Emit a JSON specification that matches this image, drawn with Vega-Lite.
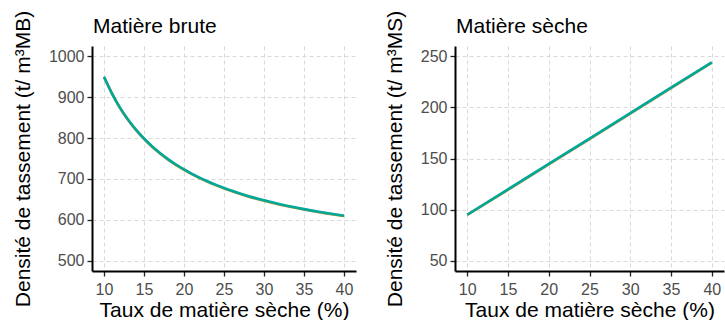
{
  "$schema": "https://vega.github.io/schema/vega-lite/v6.json",
  "padding": {"left": 12, "top": 10, "right": 2, "bottom": 0},
  "background": "white",
  "spacing": 99,
  "bounds": "flush",
  "config": {
    "font": "Liberation Sans",
    "view": {"stroke": null},
    "title": {"fontSize": 21, "fontWeight": "normal", "color": "black", "anchor": "start", "frame": "group", "offset": -27, "dx": 1},
    "axis": {
      "domainColor": "black", "domainWidth": 2,
      "tickColor": "#222222", "tickWidth": 1.3, "tickSize": 5,
      "labelColor": "#4d4d4d", "labelFontSize": 16, "labelPadding": 3, "format": "d",
      "titleColor": "black", "titleFontSize": 21, "titleFontWeight": "normal",
      "gridColor": "#d9d9d9", "gridDash": [4, 3], "gridWidth": 1
    }
  },
  "datasets": {
    "brute": [
      {"x": 10, "s": "t", "y": 950.0}, {"x": 11, "s": "t", "y": 908.8}, {"x": 12, "s": "t", "y": 874.4}, {"x": 13, "s": "t", "y": 845.4}, {"x": 14, "s": "t", "y": 820.5}, {"x": 15, "s": "t", "y": 798.9}, {"x": 16, "s": "t", "y": 780.0}, {"x": 17, "s": "t", "y": 763.3}, {"x": 18, "s": "t", "y": 748.5}, {"x": 19, "s": "t", "y": 735.3}, {"x": 20, "s": "t", "y": 723.3}, {"x": 21, "s": "t", "y": 712.5}, {"x": 22, "s": "t", "y": 702.7}, {"x": 23, "s": "t", "y": 693.8}, {"x": 24, "s": "t", "y": 685.6}, {"x": 25, "s": "t", "y": 678.0}, {"x": 26, "s": "t", "y": 671.0}, {"x": 27, "s": "t", "y": 664.6}, {"x": 28, "s": "t", "y": 658.6}, {"x": 29, "s": "t", "y": 653.0}, {"x": 30, "s": "t", "y": 647.8}, {"x": 31, "s": "t", "y": 642.9}, {"x": 32, "s": "t", "y": 638.3}, {"x": 33, "s": "t", "y": 634.0}, {"x": 34, "s": "t", "y": 630.0}, {"x": 35, "s": "t", "y": 626.2}, {"x": 36, "s": "t", "y": 622.6}, {"x": 37, "s": "t", "y": 619.2}, {"x": 38, "s": "t", "y": 616.0}, {"x": 39, "s": "t", "y": 612.9}, {"x": 40, "s": "t", "y": 610.0},
      {"x": 10, "s": "b", "y": 949.0}, {"x": 12, "s": "b", "y": 873.2}, {"x": 14, "s": "b", "y": 819.2}, {"x": 16, "s": "b", "y": 778.6}, {"x": 18, "s": "b", "y": 747.1}, {"x": 20, "s": "b", "y": 721.9}, {"x": 22, "s": "b", "y": 701.3}, {"x": 24, "s": "b", "y": 684.2}, {"x": 26, "s": "b", "y": 669.7}, {"x": 28, "s": "b", "y": 657.3}, {"x": 30, "s": "b", "y": 646.6}, {"x": 32, "s": "b", "y": 637.2}, {"x": 34, "s": "b", "y": 629.0}, {"x": 36, "s": "b", "y": 621.7}, {"x": 38, "s": "b", "y": 615.3}, {"x": 40, "s": "b", "y": 609.5}
    ],
    "seche": [
      {"x": 10, "s": "t", "y": 95.0}, {"x": 15, "s": "t", "y": 119.8}, {"x": 20, "s": "t", "y": 144.7}, {"x": 25, "s": "t", "y": 169.5}, {"x": 30, "s": "t", "y": 194.3}, {"x": 35, "s": "t", "y": 219.2}, {"x": 40, "s": "t", "y": 244.0},
      {"x": 10, "s": "b", "y": 94.8}, {"x": 15, "s": "b", "y": 119.4}, {"x": 20, "s": "b", "y": 144.2}, {"x": 25, "s": "b", "y": 169.0}, {"x": 30, "s": "b", "y": 193.8}, {"x": 35, "s": "b", "y": 218.8}, {"x": 40, "s": "b", "y": 243.7}
    ]
  },
  "hconcat": [
    {
      "width": 264, "height": 225,
      "title": {"text": "Matière brute"},
      "data": {"name": "brute"},
      "encoding": {
        "x": {"field": "x", "type": "quantitative",
          "scale": {"domain": [8.5, 41.5], "nice": false, "zero": false},
          "axis": {"values": [10, 15, 20, 25, 30, 35, 40], "title": "Taux de matière sèche (%)", "titlePadding": 2, "labelPadding": 5}},
        "y": {"field": "y", "type": "quantitative",
          "scale": {"domain": [475, 1025], "nice": false, "zero": false},
          "axis": {"values": [500, 600, 700, 800, 900, 1000], "title": "Densité de tassement (t/ m³MB)", "titlePadding": 15}}
      },
      "layer": [
        {"transform": [{"filter": "datum.s === 'b'"}], "mark": {"type": "line", "strokeWidth": 2.6, "interpolate": "monotone", "color": "#c9962b"}},
        {"transform": [{"filter": "datum.s === 't'"}], "mark": {"type": "line", "strokeWidth": 2.6, "interpolate": "monotone", "color": "#00a79a"}}
      ]
    },
    {
      "width": 269, "height": 225,
      "title": {"text": "Matière sèche"},
      "data": {"name": "seche"},
      "encoding": {
        "x": {"field": "x", "type": "quantitative",
          "scale": {"domain": [8.5, 41.5], "nice": false, "zero": false},
          "axis": {"values": [10, 15, 20, 25, 30, 35, 40], "title": "Taux de matière sèche (%)", "titlePadding": 2, "labelPadding": 5}},
        "y": {"field": "y", "type": "quantitative",
          "scale": {"domain": [40, 260], "nice": false, "zero": false},
          "axis": {"values": [50, 100, 150, 200, 250], "title": "Densité de tassement (t/ m³MS)", "titlePadding": 15}}
      },
      "layer": [
        {"transform": [{"filter": "datum.s === 'b'"}], "mark": {"type": "line", "strokeWidth": 2.6, "color": "#c9962b"}},
        {"transform": [{"filter": "datum.s === 't'"}], "mark": {"type": "line", "strokeWidth": 2.6, "color": "#00a79a"}}
      ]
    }
  ]
}
